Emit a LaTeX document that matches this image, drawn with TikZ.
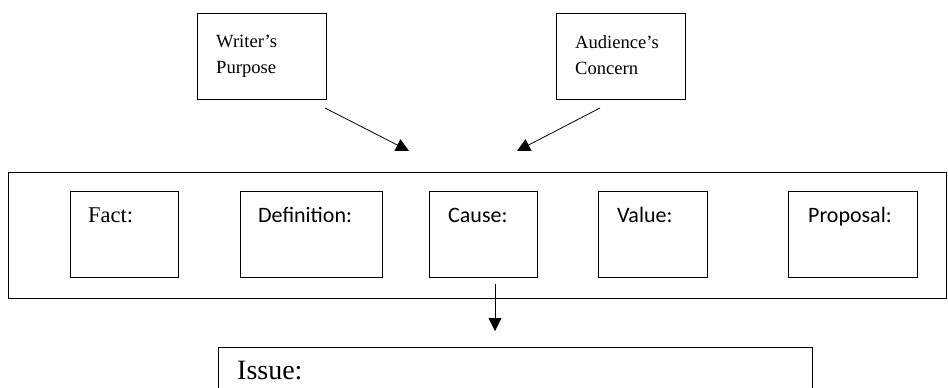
\documentclass[tikz,border=0pt]{standalone}
\usepackage{fontspec}
\setmainfont{Liberation Serif}
\newfontfamily\calibrifont{Carlito}
\usetikzlibrary{arrows.meta}

\begin{document}
\begin{tikzpicture}[x=1pt, y=-1pt, >={Triangle[length=13pt, width=13pt]},
        box/.style={draw, rectangle, anchor=north west, inner sep=0pt, line width=0.8pt},
        lbl/.style={anchor=base west, inner sep=0pt}]
        \clip (0,0) rectangle (948,388);
        % top boxes
        \node[box, minimum width=129, minimum height=86] (writer) at (197,13) {};
        \node[box, minimum width=129, minimum height=86] (audience) at (556,13) {};
        \node[lbl, align=left, font=\fontsize{18.6}{26}\selectfont] (writerlbl) at (216,73) {Writer’s\\Purpose};
        \node[lbl, align=left, font=\fontsize{18.6}{26}\selectfont] (audiencelbl) at (575,74) {Audience’s\\Concern};
        % stasis row
        \node[box, line width=1.2pt, minimum width=938, minimum height=126] (stasis) at (8,172) {};
        \node[box, minimum width=108, minimum height=86] (fact) at (70,191) {};
        \node[box, minimum width=142, minimum height=86] (definition) at (240,191) {};
        \node[box, minimum width=108, minimum height=86] (cause) at (429,191) {};
        \node[box, minimum width=109, minimum height=86] (value) at (598,191) {};
        \node[box, minimum width=129, minimum height=86] (proposal) at (788,191) {};
        \node[lbl, font=\fontsize{22.5}{26}\selectfont] (factlbl) at (88,222.5) {Fact:};
        \node[lbl, font=\calibrifont\fontsize{22}{26}\selectfont] (definitionlbl) at (258,222.5) {Definition:};
        \node[lbl, font=\calibrifont\fontsize{22}{26}\selectfont] (causelbl) at (448,222.5) {Cause:};
        \node[lbl, font=\calibrifont\fontsize{22}{26}\selectfont] (valuelbl) at (617,222.5) {Value:};
        \node[lbl, font=\calibrifont\fontsize{22}{26}\selectfont] (proposallbl) at (808,222.5) {Proposal:};
        % issue
        \node[box, minimum width=594, minimum height=73] (issue) at (218,347) {};
        \node[lbl, font=\fontsize{28}{30}\selectfont] (issuelbl) at (237,379) {Issue:};
        % arrows
        \coordinate (writerend) at (325,108);
        \coordinate (audienceend) at (600,108);
        \coordinate (writertip) at (409,151);
        \coordinate (audiencetip) at (517,151);
        \coordinate (causeend) at (495,284);
        \coordinate (issuetip) at (495,331);
        \draw[->, line width=0.8pt] (writerend) -- (writertip);
        \draw[->, line width=0.8pt] (audienceend) -- (audiencetip);
        \draw[->, line width=0.8pt] (causeend) -- (issuetip);
    \end{tikzpicture}
\end{document}
